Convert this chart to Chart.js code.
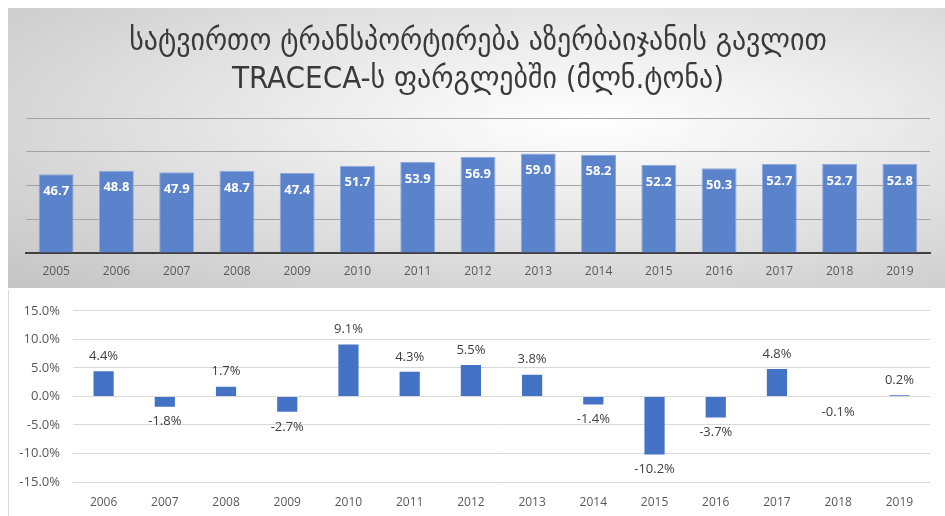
<!DOCTYPE html>
<html>
<head>
<meta charset="utf-8">
<script src="https://cdn.jsdelivr.net/npm/chart.js@4"></script>
<style>
  body { margin: 0; width: 945px; height: 516px; background: #fff; position: relative; overflow: hidden; }
  #topBox { position: absolute; left: 8px; top: 8px; width: 937px; height: 280px;
    background: radial-gradient(ellipse farthest-corner at 62% 40%, #ffffff 0%, #f3f3f3 22%, #c4c4c4 100%); }
  #bottomBox { position: absolute; left: 8px; top: 290px; width: 936px; height: 226px;
    background: #fff; border-left: 1px solid #d9d9d9; }
  canvas { display: block; }
</style>
</head>
<body>
<div id="topBox"><canvas id="volumeChart" width="937" height="280"></canvas></div>
<div id="bottomBox"><canvas id="changeChart" width="936" height="226"></canvas></div>
<script>
const titleLines = ['სატვირთო ტრანსპორტირება აზერბაიჯანის გავლით', 'TRACECA-ს ფარგლებში (მლნ.ტონა)'];
const years = ['2005', '2006', '2007', '2008', '2009', '2010', '2011', '2012', '2013', '2014', '2015', '2016', '2017', '2018', '2019'];
const volume = [46.7, 48.8, 47.9, 48.7, 47.4, 51.7, 53.9, 56.9, 59.0, 58.2, 52.2, 50.3, 52.7, 52.7, 52.8];
const changeYears = ['2006', '2007', '2008', '2009', '2010', '2011', '2012', '2013', '2014', '2015', '2016', '2017', '2018', '2019'];
const change = [4.4, -1.8, 1.7, -2.7, 9.1, 4.3, 5.5, 3.8, -1.4, -10.2, -3.7, 4.8, -0.1, 0.2];

const FONT = '"Open Sans", "Liberation Sans", sans-serif';

// draws value labels next to each bar, using the bar elements' positions
const barLabels = {
  id: 'barLabels',
  afterDatasetsDraw(chart, args, opts) {
    const ctx = chart.ctx;
    const meta = chart.getDatasetMeta(0);
    const data = chart.data.datasets[0].data;
    ctx.save();
    ctx.font = opts.font;
    ctx.fillStyle = opts.color;
    ctx.textAlign = 'center';
    ctx.textBaseline = 'middle';
    meta.data.forEach((bar, i) => {
      const v = data[i];
      let y;
      if (opts.inside) {
        y = bar.y + opts.offset;
      } else {
        y = v >= 0 ? bar.y - opts.offset : bar.y + opts.offset;
      }
      ctx.fillText(opts.format(v), bar.x, y);
    });
    ctx.restore();
  }
};

new Chart(document.getElementById('volumeChart'), {
  type: 'bar',
  data: {
    labels: years,
    datasets: [{
      data: volume,
      backgroundColor: '#5b83cb',
      borderColor: '#8eaadc',
      borderWidth: 1,
      barPercentage: 0.58,
      categoryPercentage: 1
    }]
  },
  options: {
    responsive: false,
    animation: false,
    layout: { padding: { left: 18, right: 15, top: 0, bottom: 5 } },
    plugins: {
      legend: { display: false },
      tooltip: { enabled: false },
      title: {
        display: true,
        text: titleLines,
        color: '#3a3a3a',
        font: { family: '"DejaVu Sans Condensed", "DejaVu Sans", sans-serif', size: 31, weight: 'normal', lineHeight: 1.226 },
        padding: { top: 15, bottom: 19 }
      },
      barLabels: {
        inside: true,
        offset: 17,
        color: '#ffffff',
        font: 'bold 13px ' + FONT,
        format: v => v.toFixed(1)
      }
    },
    scales: {
      x: {
        grid: { display: false },
        border: { color: '#404040', width: 2 },
        ticks: { color: '#595959', font: { family: FONT, size: 12, lineHeight: 1 }, padding: 5 }
      },
      y: {
        min: 0,
        max: 80,
        ticks: { display: false, stepSize: 20 },
        grid: { color: '#a3a3a3', drawTicks: false },
        border: { display: false }
      }
    }
  },
  plugins: [barLabels]
});

new Chart(document.getElementById('changeChart'), {
  type: 'bar',
  data: {
    labels: changeYears,
    datasets: [{
      data: change,
      backgroundColor: '#4472c4',
      borderWidth: 0,
      barPercentage: 0.33,
      categoryPercentage: 1
    }]
  },
  options: {
    responsive: false,
    animation: false,
    layout: { padding: { left: 0, right: 15, top: 19, bottom: 0 } },
    plugins: {
      legend: { display: false },
      tooltip: { enabled: false },
      barLabels: {
        inside: false,
        offset: 15,
        color: '#404040',
        font: '13px ' + FONT,
        format: v => v.toFixed(1) + '%'
      }
    },
    scales: {
      x: {
        grid: { display: false },
        border: { display: false },
        ticks: { color: '#595959', font: { family: FONT, size: 12, lineHeight: 1 }, padding: 7 }
      },
      y: {
        min: -15,
        max: 15,
        afterFit: scale => { scale.width = 64; },
        ticks: {
          stepSize: 5,
          color: '#595959',
          font: { family: FONT, size: 13 },
          padding: 13,
          callback: v => v.toFixed(1) + '%'
        },
        grid: { color: '#d9d9d9', drawTicks: false },
        border: { display: false }
      }
    }
  },
  plugins: [barLabels]
});
</script>
</body>
</html>
